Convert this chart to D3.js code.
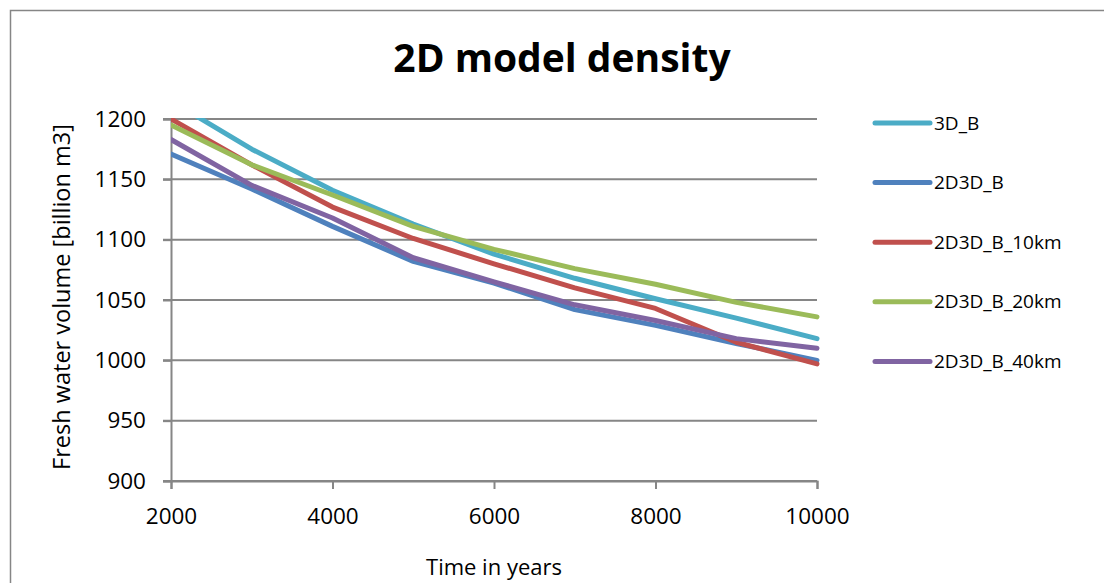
<!DOCTYPE html>
<html>
<head>
<meta charset="utf-8">
<script src="https://cdn.jsdelivr.net/npm/d3@7"></script>
<style>
  html, body { margin: 0; padding: 0; background: #fff; }
  svg { display: block; font-family: "Open Sans", sans-serif; }
</style>
</head>
<body>
<svg id="chart" width="1104" height="583"></svg>
<script>
// Simulation time steps (years)
const years = [2000, 3000, 4000, 5000, 6000, 7000, 8000, 9000, 10000];

// Fresh water volume per model variant [billion m3]
const seriesNames = ["3D_B", "2D3D_B", "2D3D_B_10km", "2D3D_B_20km", "2D3D_B_40km"];
const vol3D_B      = [1215, 1175, 1141, 1113, 1088, 1068, 1051, 1035, 1018];
const vol2D3D_B    = [1171, 1142, 1111, 1082, 1064, 1042, 1029, 1014, 1000];
const vol2D3D_10km = [1200, 1162, 1127, 1101, 1080, 1060, 1043, 1015, 997];
const vol2D3D_20km = [1195, 1162, 1137, 1111, 1092, 1076, 1063, 1048, 1036];
const vol2D3D_40km = [1183, 1145, 1118, 1085, 1065, 1046, 1033, 1018, 1010];
const seriesValues = [vol3D_B, vol2D3D_B, vol2D3D_10km, vol2D3D_20km, vol2D3D_40km];
const seriesColors = ["#4BACC6", "#4F81BD", "#C0504D", "#9BBB59", "#8064A2"];

// Axis ticks
const xTicks = [2000, 4000, 6000, 8000, 10000];
const yTicks = [900, 950, 1000, 1050, 1100, 1150, 1200];

const svg = d3.select("#chart");
const gridColor = "#868686";

// Outer chart frame
svg.append("rect")
  .attr("x", 10.5).attr("y", 10.5)
  .attr("width", 1300).attr("height", 800)
  .attr("fill", "none").attr("stroke", gridColor).attr("stroke-width", 1.5);

const plot = { left: 171, right: 817, top: 119, bottom: 481 };
const x = d3.scaleLinear().domain([2000, 10000]).range([plot.left, plot.right]);
const y = d3.scaleLinear().domain([900, 1200]).range([plot.bottom, plot.top]);

// Horizontal gridlines
svg.append("g")
  .selectAll("line")
  .data(yTicks)
  .join("line")
  .attr("x1", plot.left - 8).attr("x2", plot.right)
  .attr("y1", d => y(d)).attr("y2", d => y(d))
  .attr("stroke", gridColor).attr("stroke-width", 2);

// Y axis
const yAxis = svg.append("g")
  .attr("transform", `translate(${plot.left},0)`)
  .call(d3.axisLeft(y).tickValues(yTicks).tickSize(8).tickPadding(17).tickFormat(d3.format("d")));
yAxis.select(".domain").attr("stroke", gridColor).attr("stroke-width", 2);
yAxis.selectAll(".tick line").attr("stroke", gridColor).attr("stroke-width", 2);
yAxis.selectAll(".tick text")
  .attr("font-size", 22.5).attr("fill", "#000").attr("font-family", "Open Sans");

// X axis
const xAxis = svg.append("g")
  .attr("transform", `translate(0,${plot.bottom})`)
  .call(d3.axisBottom(x).tickValues(xTicks).tickSize(8).tickPadding(19).tickFormat(d3.format("d")));
xAxis.select(".domain").attr("stroke", gridColor).attr("stroke-width", 2);
xAxis.selectAll(".tick line").attr("stroke", gridColor).attr("stroke-width", 2);
xAxis.selectAll(".tick text")
  .attr("font-size", 22.5).attr("fill", "#000").attr("font-family", "Open Sans");

// Clip series to the plot area
svg.append("clipPath").attr("id", "plotClip")
  .append("rect")
  .attr("x", plot.left).attr("y", plot.top - 1)
  .attr("width", plot.right - plot.left + 4).attr("height", plot.bottom - plot.top + 2);

const line = d3.line()
  .x((d, i) => x(years[i]))
  .y(d => y(d));

svg.append("g")
  .attr("clip-path", "url(#plotClip)")
  .selectAll("path")
  .data(seriesValues)
  .join("path")
  .attr("d", d => line(d))
  .attr("fill", "none")
  .attr("stroke", (d, i) => seriesColors[i])
  .attr("stroke-width", 5)
  .attr("stroke-linejoin", "round")
  .attr("stroke-linecap", "round");

// Title
svg.append("text")
  .attr("x", 562).attr("y", 72)
  .attr("text-anchor", "middle")
  .attr("font-size", 39).attr("font-weight", "bold")
  .text("2D model density");

// Axis titles
svg.append("text")
  .attr("transform", `translate(70,${(plot.top + plot.bottom) / 2 - 3}) rotate(-90)`)
  .attr("text-anchor", "middle")
  .attr("font-size", 23.5)
  .text("Fresh water volume [billion m3]");

svg.append("text")
  .attr("x", 494).attr("y", 575)
  .attr("text-anchor", "middle")
  .attr("font-size", 22)
  .text("Time in years");

// Legend
const legend = svg.append("g")
  .selectAll("g")
  .data(seriesNames)
  .join("g")
  .attr("transform", (d, i) => `translate(875,${123 + i * 59.6})`);
legend.append("line")
  .attr("x1", 0).attr("x2", 55)
  .attr("stroke", (d, i) => seriesColors[i])
  .attr("stroke-width", 5).attr("stroke-linecap", "round");
legend.append("text")
  .attr("x", 59).attr("dy", "0.35em")
  .attr("font-size", 19)
  .text(d => d);
</script>
</body>
</html>
